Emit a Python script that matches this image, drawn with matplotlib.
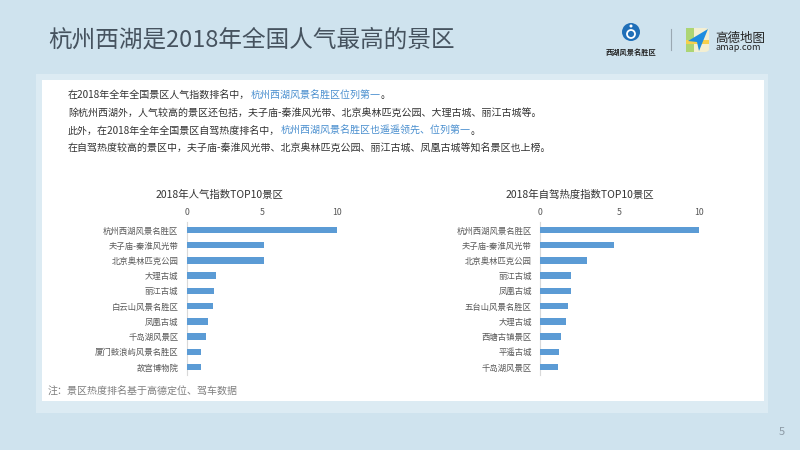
import matplotlib
matplotlib.use('Agg')
import matplotlib.pyplot as plt
from matplotlib.patches import Rectangle, Ellipse, FancyBboxPatch, Polygon
from matplotlib.lines import Line2D

plt.rcParams['font.family'] = ['Noto Sans CJK SC', 'DejaVu Sans']

# ---------------- data ----------------
title = "杭州西湖是2018年全国人气最高的景区"
chart1_title = "2018年人气指数TOP10景区"
cats1 = ["杭州西湖风景名胜区", "夫子庙-秦淮风光带", "北京奥林匹克公园", "大理古城", "丽江古城",
         "白云山风景名胜区", "凤凰古城", "千岛湖风景区", "厦门鼓浪屿风景名胜区", "故宫博物院"]
vals1 = [10.0, 5.16, 5.16, 1.98, 1.84, 1.76, 1.42, 1.27, 0.98, 0.96]

chart2_title = "2018年自驾热度指数TOP10景区"
cats2 = ["杭州西湖风景名胜区", "夫子庙-秦淮风光带", "北京奥林匹克公园", "丽江古城", "凤凰古城",
         "五台山风景名胜区", "大理古城", "西塘古镇景区", "平遥古城", "千岛湖风景区"]
vals2 = [10.0, 4.65, 2.96, 1.95, 1.93, 1.76, 1.61, 1.30, 1.19, 1.15]

x_ticks = [0, 5, 10]

DARK = '#333333'
BLUE = '#4a8fcf'
body_lines = [
    [("在2018年全年全国景区人气指数排名中，", DARK), ("杭州西湖风景名胜区位列第一", BLUE), ("。", DARK)],
    [("除杭州西湖外，人气较高的景区还包括，夫子庙-秦淮风光带、北京奥林匹克公园、大理古城、丽江古城等。", DARK)],
    [("此外，在2018年全年全国景区自驾热度排名中，", DARK), ("杭州西湖风景名胜区也遥遥领先、位列第一", BLUE), ("。", DARK)],
    [("在自驾热度较高的景区中，夫子庙-秦淮风光带、北京奥林匹克公园、丽江古城、凤凰古城等知名景区也上榜。", DARK)],
]
note = "注：景区热度排名基于高德定位、驾车数据"
page_no = "5"

# ---------------- figure ----------------
W, H = 800, 450
fig = plt.figure(figsize=(8, 4.5), dpi=100)
fig.patch.set_facecolor('#cfe3ee')


def fx(x):
    return x / W


def fy(y):
    return 1 - y / H


def frect(x0, y0, x1, y1, **kw):
    r = Rectangle((fx(x0), fy(y1)), fx(x1) - fx(x0), fy(y0) - fy(y1),
                  transform=fig.transFigure, **kw)
    fig.patches.append(r)
    return r


# background panels
frect(36, 74, 768, 413, facecolor='#dcebf3', edgecolor='none', zorder=-3)
frect(42, 80, 764, 401, facecolor='white', edgecolor='none', zorder=-2)

# title
fig.text(fx(48), fy(40), title, fontsize=17, color='#46535f', va='center', ha='left')

# logos
fig.patches.append(Ellipse((fx(631), fy(32)), 18 / W, 18 / H, transform=fig.transFigure,
                           facecolor='#1f6fb8', edgecolor='none', zorder=2))
fig.patches.append(Ellipse((fx(631), fy(34)), 8 / W, 8 / H, transform=fig.transFigure,
                           facecolor='none', edgecolor='white', lw=1.3, zorder=3))
fig.patches.append(Ellipse((fx(631), fy(26)), 3 / W, 3 / H, transform=fig.transFigure,
                           facecolor='white', edgecolor='none', zorder=3))
fig.text(fx(631), fy(52), "西湖风景名胜区", fontsize=5.2, fontweight='bold', color='#222222',
         ha='center', va='center')
fig.lines.append(Line2D([fx(671), fx(671)], [fy(29), fy(50)], transform=fig.transFigure,
                        color='#9aa8b2', lw=0.8))
icon = FancyBboxPatch((fx(686), fy(52)), 23 / W, 24 / H, boxstyle="round,pad=0,rounding_size=0.006",
                      transform=fig.transFigure, facecolor='#f3efd2', edgecolor='none', zorder=2)
fig.patches.append(icon)
frect(686, 28, 694, 52, facecolor='#a6d36a', edgecolor='none', zorder=2.2, alpha=0.9)
frect(686, 40, 709, 44, facecolor='#f6d04d', edgecolor='none', zorder=2.3)
fig.patches.append(Polygon([(fx(708), fy(29)), (fx(688), fy(41)), (fx(697), fy(42)), (fx(699), fy(51))],
                           closed=True, transform=fig.transFigure, facecolor='#1e8de0',
                           edgecolor='none', zorder=3))
fig.text(fx(715), fy(38), "高德地图", fontsize=9, color='#222222', ha='left', va='center')
fig.text(fx(715), fy(47.5), "amap.com", fontsize=6.5, color='#222222', ha='left', va='center')

# body text with coloured segments
renderer = fig.canvas.get_renderer()
line_y = [95, 112.5, 130.7, 149]
for yy, parts in zip(line_y, body_lines):
    xx = 68
    for s, c in parts:
        t = fig.text(fx(xx), fy(yy), s, fontsize=7.2, color=c, ha='left', va='center')
        bb = t.get_window_extent(renderer=renderer)
        xx = bb.x1

# note and page number
fig.text(fx(48), fy(392), note, fontsize=7.2, color='#7f7f7f', ha='left', va='center')
fig.text(fx(782), fy(432), page_no, fontsize=8, color='#8c9aa5', ha='center', va='center')


# ---------------- charts ----------------
def bar_chart(x0, px_per_unit, cats, vals, ctitle, title_cx):
    top, bottom = 222.4, 374.6
    ax = fig.add_axes([fx(x0), fy(bottom), px_per_unit * 10 / W, (bottom - top) / H])
    ax.set_zorder(5)
    ax.patch.set_alpha(0)
    ax.barh(range(len(cats)), vals, height=0.42, color='#5b9bd5', zorder=3)
    ax.set_ylim(len(cats) - 0.5, -0.5)
    ax.set_xlim(0, 10)
    ax.set_xticks(x_ticks)
    ax.set_xticklabels([str(v) for v in x_ticks])
    ax.xaxis.tick_top()
    ax.set_yticks(range(len(cats)))
    ax.set_yticklabels(cats)
    ax.tick_params(axis='x', length=0, labelsize=6.3, colors='#595959', pad=4)
    ax.tick_params(axis='y', length=0, labelsize=6, colors='#595959', pad=6)
    for s in ['top', 'right', 'bottom']:
        ax.spines[s].set_visible(False)
    ax.spines['left'].set_color('#d9d9d9')
    ax.spines['left'].set_linewidth(0.8)
    fig.text(fx(title_cx), fy(195), ctitle, fontsize=7.5, color='#333333', ha='center', va='center')
    return ax


bar_chart(186.7, 15.0, cats1, vals1, chart1_title, 219)
bar_chart(540.0, 15.9, cats2, vals2, chart2_title, 580)

fig.savefig('out.png', dpi=100, facecolor=fig.get_facecolor())
